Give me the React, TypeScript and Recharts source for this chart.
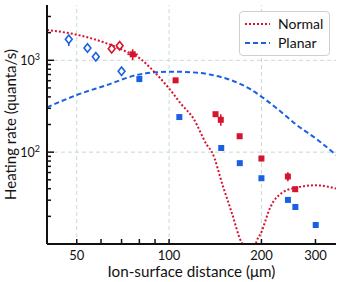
import React from "react";
import {
  ComposedChart,
  Line,
  Scatter,
  XAxis,
  YAxis,
  ErrorBar,
  ReferenceLine,
  Legend,
} from "recharts";

const RED = "#d5152f";
const BLUE = "#1b5fe3";
const GRID = "#c9d9d2";
const AXIS = "#111";
const FONT = "Lato, 'Open Sans', sans-serif";

// model curves
const normalX = [40, 50, 62.6, 72.7, 78.8, 90.4, 101, 109, 120, 133, 138, 150, 160, 172, 175, 183, 191, 200, 214, 236, 261, 300, 350];
const normalY = [2140, 1900, 1530, 1240, 1094, 722, 474, 340, 233, 119, 100, 42, 22, 10.5, 9.5, 2, 9.5, 13.5, 25.3, 36.9, 41.2, 43.6, 40.2];

const planarX = [40, 50, 62.6, 78.5, 90, 104, 124, 137, 160, 184, 206, 230, 261, 306, 350];
const planarY = [307, 419, 537, 692, 740, 751, 732, 695, 605, 485, 375, 280, 197, 135, 93];

// measurements: [below, above] error
const normalOpenX = [65.0, 69.0];
const normalOpenY = [1338, 1443];

const planarOpenX = [47.1, 54.2, 57.7, 70.0];
const planarOpenY = [1694, 1362, 1094, 759];
const planarOpenErr = [[262, 196], [0, 0], [0, 0], [73, 72]];

const normalFillX = [76.1, 105, 141.7, 147.4, 169.8, 200, 243.9, 257.7];
const normalFillY = [1162, 605, 259, 225, 149, 85.3, 54.3, 39.5];
const normalFillErr = [[154, 156], [0, 0], [0, 0], [31, 33], [0, 0], [6, 6], [6, 6], [0, 0]];
const normalFillErrX = [[3, 3], [0, 0], [0, 0], [0, 0], [0, 0], [0, 0], [0, 0], [0, 0]];

const planarFillX = [80.0, 108, 147.9, 170, 200, 244, 258, 300.6];
const planarFillY = [625, 241, 111, 75.9, 52, 30.2, 25.3, 16.1];
const planarFillErr = [[47, 38], [0, 0], [0, 0], [0, 0], [0, 0], [0, 0], [0, 0], [0, 0]];

const xTicks = [50, 60, 70, 80, 90, 100, 200, 300];
const xLabels = [50, 100, 200, 300];
const yTicks = [20, 30, 40, 50, 60, 70, 80, 90, 100, 200, 300, 400, 500, 600, 700, 800, 900, 1000, 2000, 3000];
const yMajor = [100, 1000];
const yMajorExp = ["2", "3"];
const xGrid = [50, 100, 200];
const yGrid = [100, 1000];

const legendNames = ["Normal", "Planar"];

const normalCurve = normalX.map((x, i) => ({ x, y: normalY[i] }));
const planarCurve = planarX.map((x, i) => ({ x, y: planarY[i] }));
const normalOpen = normalOpenX.map((x, i) => ({ x, y: normalOpenY[i] }));
const planarOpen = planarOpenX.map((x, i) => ({ x, y: planarOpenY[i], err: planarOpenErr[i] }));
const normalFill = normalFillX.map((x, i) => ({
  x,
  y: normalFillY[i],
  err: normalFillErr[i],
  errX: normalFillErrX[i],
}));
const planarFill = planarFillX.map((x, i) => ({ x, y: planarFillY[i], err: planarFillErr[i] }));

const openDiamond = (color: string) => (p: any) => {
  const { cx, cy } = p;
  return (
    <path
      d={`M${cx},${cy - 4.2} L${cx + 3.4},${cy} L${cx},${cy + 4.2} L${cx - 3.4},${cy} Z`}
      fill="#fff"
      stroke={color}
      strokeWidth={1.6}
    />
  );
};

const filledSquare = (color: string) => (p: any) => {
  const { cx, cy } = p;
  return <rect x={cx - 3} y={cy - 3} width={6} height={6} fill={color} />;
};

function XTick(props: any) {
  const { x, y, payload } = props;
  const v = payload.value;
  return (
    <g>
      <line x1={x} x2={x} y1={y} y2={y - 5} stroke={AXIS} strokeWidth={1.5} />
      {xLabels.includes(v) && (
        <text x={x} y={y + 15.5} textAnchor="middle" fontSize={13} fontFamily={FONT} fill={AXIS}>
          {v}
        </text>
      )}
    </g>
  );
}

function YTick(props: any) {
  const { x, y, payload } = props;
  const v = payload.value;
  const k = yMajor.indexOf(v);
  return (
    <g>
      <line x1={x} x2={x + (k >= 0 ? 7 : 4)} y1={y} y2={y} stroke={AXIS} strokeWidth={1.5} />
      {k >= 0 && (
        <text x={x - 7} y={y + 4.5} textAnchor="end" fontSize={12.5} fontFamily={FONT} fill={AXIS}>
          <tspan>10</tspan>
          <tspan dy={-5} fontSize={9}>
            {yMajorExp[k]}
          </tspan>
        </text>
      )}
    </g>
  );
}

function LegendBox() {
  const styles = [
    { color: RED, dash: "2 2" },
    { color: BLUE, dash: "5 3" },
  ];
  return (
    <div
      style={{
        border: "1px solid #cfcfcf",
        borderRadius: 4,
        background: "rgba(255,255,255,0.85)",
        padding: "2px 6px 3px 4px",
        fontFamily: FONT,
        fontSize: 14,
        color: AXIS,
        lineHeight: "19px",
      }}
    >
      {legendNames.map((name, i) => (
        <div key={name} style={{ display: "flex", alignItems: "center" }}>
          <svg width={26} height={10} style={{ marginRight: 8 }}>
            <line x1={1} x2={26} y1={5} y2={5} stroke={styles[i].color} strokeWidth={2} strokeDasharray={styles[i].dash} />
          </svg>
          <span>{name}</span>
        </div>
      ))}
    </div>
  );
}

export default function App() {
  return (
    <div style={{ position: "absolute", left: 0, top: 0, width: 343, height: 282, background: "#fff" }}>
      <ComposedChart width={343} height={282} margin={{ top: 5, right: 7, bottom: 0, left: 0 }}>
        <XAxis
          xAxisId={0}
          dataKey="x"
          type="number"
          scale="log"
          domain={[40, 350]}
          allowDataOverflow
          ticks={xTicks}
          interval={0}
          tickLine={false}
          tickSize={0}
          tickMargin={0}
          height={38}
          axisLine={{ stroke: AXIS, strokeWidth: 2 }}
          tick={(p: any) => <XTick {...p} />}
          label={{
            content: (p: any) => {
              const vb = p.viewBox;
              return (
                <text x={vb.x + vb.width / 2} y={276.5} textAnchor="middle" fontSize={15.2} fontFamily={FONT} fill={AXIS}>
                  Ion-surface distance (μm)
                </text>
              );
            },
          }}
        />
        <XAxis
          xAxisId="top"
          orientation="top"
          type="number"
          scale="log"
          domain={[40, 350]}
          allowDataOverflow
          height={0}
          tick={false}
          tickLine={false}
          axisLine={{ stroke: "#333", strokeWidth: 2 }}
        />
        <YAxis
          yAxisId={0}
          type="number"
          scale="log"
          domain={[10, 4000]}
          allowDataOverflow
          ticks={yTicks}
          interval={0}
          tickLine={false}
          tickSize={0}
          tickMargin={0}
          width={47}
          axisLine={{ stroke: AXIS, strokeWidth: 2 }}
          tick={(p: any) => <YTick {...p} />}
          label={{
            content: (p: any) => {
              const vb = p.viewBox;
              const cy = vb.y + vb.height / 2;
              return (
                <text
                  x={15.5}
                  y={cy}
                  transform={`rotate(-90 15.5 ${cy})`}
                  textAnchor="middle"
                  fontSize={15}
                  fontFamily={FONT}
                  fill={AXIS}
                >
                  Heating rate (quanta/s)
                </text>
              );
            },
          }}
        />
        <YAxis
          yAxisId="right"
          orientation="right"
          type="number"
          scale="log"
          domain={[10, 4000]}
          allowDataOverflow
          width={0}
          tick={false}
          tickLine={false}
          axisLine={{ stroke: "#333", strokeWidth: 2 }}
        />

        {xGrid.map((v) => (
          <ReferenceLine key={"gx" + v} x={v} stroke={GRID} strokeDasharray="4 3" strokeWidth={1} />
        ))}
        {yGrid.map((v) => (
          <ReferenceLine key={"gy" + v} y={v} stroke={GRID} strokeDasharray="4 3" strokeWidth={1} />
        ))}

        <Line
          data={planarCurve}
          dataKey="y"
          type="monotone"
          stroke={BLUE}
          strokeWidth={2}
          strokeDasharray="5 3"
          dot={false}
          activeDot={false}
          isAnimationActive={false}
        />
        <Line
          data={normalCurve}
          dataKey="y"
          type="monotone"
          stroke={RED}
          strokeWidth={2}
          strokeDasharray="2 2"
          dot={false}
          activeDot={false}
          isAnimationActive={false}
        />

        <Scatter data={planarOpen} dataKey="y" shape={openDiamond(BLUE)} isAnimationActive={false}>
          <ErrorBar dataKey="err" direction="y" width={0} stroke={BLUE} strokeWidth={1.6} isAnimationActive={false} />
        </Scatter>
        <Scatter data={normalOpen} dataKey="y" shape={openDiamond(RED)} isAnimationActive={false} />
        <Scatter data={planarFill} dataKey="y" shape={filledSquare(BLUE)} isAnimationActive={false}>
          <ErrorBar dataKey="err" direction="y" width={0} stroke={BLUE} strokeWidth={1.6} isAnimationActive={false} />
        </Scatter>
        <Scatter data={normalFill} dataKey="y" shape={filledSquare(RED)} isAnimationActive={false}>
          <ErrorBar dataKey="err" direction="y" width={0} stroke={RED} strokeWidth={1.6} isAnimationActive={false} />
          <ErrorBar dataKey="errX" direction="x" width={0} stroke={RED} strokeWidth={1.6} isAnimationActive={false} />
        </Scatter>

        <Legend
          layout="horizontal"
          verticalAlign="middle"
          align="center"
          wrapperStyle={{ left: 239, top: 11, width: "auto", height: "auto" }}
          content={() => <LegendBox />}
        />
      </ComposedChart>
    </div>
  );
}
